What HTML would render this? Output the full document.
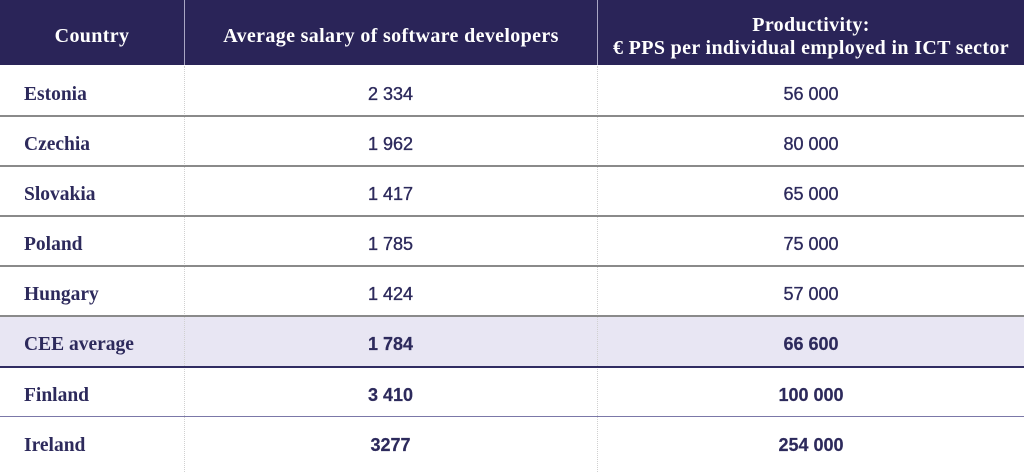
<!DOCTYPE html>
<html><head><meta charset="utf-8">
<style>
html,body{margin:0;padding:0;background:#fff;}
body{width:1024px;height:472px;position:relative;overflow:hidden;}
.hdr{position:absolute;left:0;top:0;width:1024px;height:65px;background:#2a2458;}
.hl{position:absolute;top:0;height:65px;width:1px;background:#a9a6c4;}
.ht{position:absolute;color:#fff;font-family:"Liberation Serif",serif;font-weight:bold;font-size:20px;text-align:center;line-height:23px;letter-spacing:0.35px;}
.row{position:absolute;left:0;width:1024px;height:50px;}
.line{position:absolute;left:0;width:1024px;}
.c{position:absolute;font-family:"Liberation Serif",serif;font-weight:bold;font-size:19.5px;color:#2d2a5c;left:24px;}
.n{position:absolute;font-family:"Liberation Sans",sans-serif;font-size:18px;color:#2d2a5c;text-align:center;-webkit-text-stroke:0.35px #2d2a5c;}
.b{font-weight:bold;-webkit-text-stroke:0.2px #2d2a5c;}
.v{position:absolute;top:66px;height:406px;width:0;border-left:1px dotted #d0d0d0;}
</style></head><body>
<div class="hdr"></div>
<div class="hl" style="left:184px"></div>
<div class="hl" style="left:597px"></div>
<div class="ht" style="left:0;width:184px;top:25px;">Country</div>
<div class="ht" style="left:185px;width:412px;top:25px;">Average salary of software developers</div>
<div class="ht" style="left:598px;width:426px;top:14px;">Productivity:<br>€ PPS per individual employed in ICT sector</div>

<div class="row" style="top:316px;height:50px;background:#e8e6f3;"></div>

<div class="v" style="left:184px"></div>
<div class="v" style="left:597px"></div>

<div class="line" style="top:115px;height:2px;background:#8a8a8a;"></div>
<div class="line" style="top:165px;height:2px;background:#8a8a8a;"></div>
<div class="line" style="top:215px;height:2px;background:#8a8a8a;"></div>
<div class="line" style="top:265px;height:2px;background:#8a8a8a;"></div>
<div class="line" style="top:315px;height:2px;background:#8a8a8a;"></div>
<div class="line" style="top:366px;height:2px;background:#302c62;"></div>
<div class="line" style="top:416px;height:1px;background:#7b78a8;"></div>

<div class="c" style="top:84px">Estonia</div>
<div class="n" style="left:184px;width:413px;top:84px">2 334</div>
<div class="n" style="left:598px;width:426px;top:84px">56 000</div>

<div class="c" style="top:134px">Czechia</div>
<div class="n" style="left:184px;width:413px;top:134px">1 962</div>
<div class="n" style="left:598px;width:426px;top:134px">80 000</div>

<div class="c" style="top:184px">Slovakia</div>
<div class="n" style="left:184px;width:413px;top:184px">1 417</div>
<div class="n" style="left:598px;width:426px;top:184px">65 000</div>

<div class="c" style="top:234px">Poland</div>
<div class="n" style="left:184px;width:413px;top:234px">1 785</div>
<div class="n" style="left:598px;width:426px;top:234px">75 000</div>

<div class="c" style="top:284px">Hungary</div>
<div class="n" style="left:184px;width:413px;top:284px">1 424</div>
<div class="n" style="left:598px;width:426px;top:284px">57 000</div>

<div class="c" style="top:334px">CEE average</div>
<div class="n b" style="left:184px;width:413px;top:334px">1 784</div>
<div class="n b" style="left:598px;width:426px;top:334px">66 600</div>

<div class="c" style="top:385px">Finland</div>
<div class="n b" style="left:184px;width:413px;top:385px">3 410</div>
<div class="n b" style="left:598px;width:426px;top:385px">100 000</div>

<div class="c" style="top:435px">Ireland</div>
<div class="n b" style="left:184px;width:413px;top:435px">3277</div>
<div class="n b" style="left:598px;width:426px;top:435px">254 000</div>
</body></html>
